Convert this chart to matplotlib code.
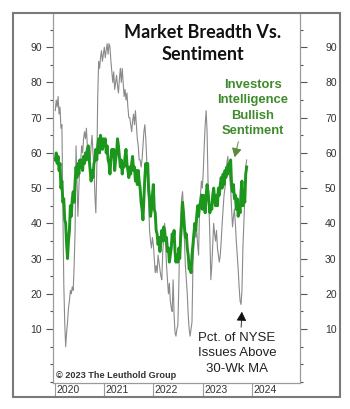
import matplotlib
matplotlib.use("Agg")
import matplotlib.pyplot as plt
from matplotlib.patches import Rectangle
from matplotlib.lines import Line2D
import pandas as pd
import numpy as np

# ---------------- data (weekly, from first Friday of 2020) ----------------
nyse_2020 = [72, 75, 73, 76, 71, 73, 67, 68, 45, 23, 12, 5, 9, 12, 16, 18, 21, 20, 22, 21,
             28, 38, 62, 52, 42, 50, 56, 58, 62, 60, 64, 66, 64, 67, 62, 58, 60, 58, 62, 65,
             60, 56, 48, 43, 55, 76, 86, 84, 87, 89, 86, 88]
nyse_2021 = [90, 87, 89, 91, 88, 91, 90, 86, 83, 80, 83, 78, 80, 82, 79, 77, 81, 84, 80, 84,
             80, 76, 78, 75, 77, 73, 70, 70, 68, 66, 69, 71, 68, 72, 68, 64, 62, 58, 58, 56,
             58, 62, 66, 68, 64, 58, 50, 46, 38, 35, 33, 36]
nyse_2022 = [34, 30, 26, 28, 26, 31, 29, 27, 25, 24, 32, 36, 40, 34, 28, 24, 20, 23, 18, 16,
             15, 24, 14, 9, 8, 10, 11, 22, 35, 42, 47, 49, 44, 35, 28, 24, 20, 14, 10, 8,
             10, 12, 28, 34, 40, 36, 38, 34, 31, 44, 48, 52]
nyse_2023 = [50, 55, 62, 68, 72, 66, 52, 45, 36, 24, 28, 34, 40, 37, 35, 38, 33, 31, 29, 31,
             35, 40, 44, 48, 50, 54, 57, 59, 56, 53, 50, 44, 39, 42, 44, 40, 35, 31, 27, 22,
             18, 17, 21, 33, 40, 47, 56, 58]

ii_2020 = [58, 60, 57, 59, 55, 57, 50, 52, 46, 47, 41, 40, 34, 30, 35, 38, 45, 42, 47, 49,
           46, 52, 56, 53, 57, 54, 58, 56, 58, 55, 59, 57, 60, 58, 61, 62, 58, 55, 52, 55,
           53, 57, 58, 61, 58, 62, 64, 60, 65, 63, 61, 64]
ii_2021 = [62, 64, 60, 62, 58, 57, 54, 58, 61, 59, 61, 55, 58, 60, 64, 62, 59, 56, 58, 54,
           57, 56, 59, 61, 57, 55, 53, 56, 54, 57, 59, 55, 56, 52, 55, 51, 55, 52, 50, 46,
           44, 41, 47, 53, 57, 55, 57, 50, 47, 42, 44, 48]
ii_2022 = [51, 44, 43, 38, 37, 34, 36, 32, 35, 38, 35, 39, 38, 35, 36, 32, 33, 29, 31, 33,
           37, 35, 38, 32, 29, 31, 29, 33, 30, 36, 40, 46, 43, 39, 36, 37, 33, 31, 27, 28,
           26, 31, 34, 37, 40, 38, 42, 45, 42, 45, 46, 48]
ii_2023 = [44, 48, 45, 43, 48, 51, 49, 46, 43, 45, 44, 48, 50, 47, 45, 48, 45, 50, 48, 51,
           53, 50, 54, 51, 55, 53, 56, 54, 57, 55, 58, 51, 49, 51, 47, 48, 44, 47, 42, 45,
           43, 49, 52, 45, 48, 46, 54, 56]

nyse = nyse_2020 + nyse_2021 + nyse_2022 + nyse_2023
ii = ii_2020 + ii_2021 + ii_2022 + ii_2023
dates = pd.date_range("2020-01-03", periods=len(nyse), freq="W-FRI")

years = [2020, 2021, 2022, 2023, 2024]
yticks = [10, 20, 30, 40, 50, 60, 70, 80, 90]

# ---------------- figure ----------------
W, H = 350, 409
fig = plt.figure(figsize=(W / 100, H / 100), dpi=100)
fig.patch.set_facecolor("white")

def fx(px):
    return px / W

def fy(py):
    return 1 - py / H

L, R, T, B = 53, 300, 13, 383
ax = fig.add_axes([fx(L), fy(B), fx(R - L), fy(T) - fy(B)])

green = "#1c961c"
ax.plot(dates, nyse, color="#8a8a8a", lw=0.8, zorder=2)
ax.plot(dates, ii, color=green, lw=2.1, zorder=3, solid_joinstyle="round")

xlim = (pd.Timestamp("2019-12-17"), pd.Timestamp("2024-12-24"))
ylim = (-5.3, 99.7)
ax.set_xlim(*xlim)
ax.set_ylim(*ylim)

tick_col = "#555555"
lab_kw = dict(fontsize=7.5, family="Liberation Sans", color="#333333")

ax.set_yticks(yticks)
ax.set_yticks(np.arange(-5, 100, 5), minor=True)
ax.set_yticklabels([str(v) for v in yticks], **lab_kw)
ax.tick_params(axis="y", which="major", direction="out", length=5, width=0.8,
               color=tick_col, left=True, right=False, pad=3)
ax.tick_params(axis="y", which="minor", direction="out", length=2.5, width=0.8,
               color=tick_col, left=True, right=False)
ax.tick_params(axis="x", which="both", bottom=False, top=False, labelbottom=False)

# right-side axis (same scale, labels further out)
ax2 = ax.twinx()
ax2.set_ylim(*ylim)
ax2.set_yticks(yticks)
ax2.set_yticks(np.arange(-5, 100, 5), minor=True)
ax2.set_yticklabels([str(v) for v in yticks], **lab_kw)
ax2.tick_params(axis="y", which="major", direction="out", length=5, width=0.8,
                color=tick_col, pad=13)
ax2.tick_params(axis="y", which="minor", direction="out", length=2.5, width=0.8,
                color=tick_col)

for a in (ax, ax2):
    for s in ["left", "right", "bottom"]:
        a.spines[s].set_color("#9a9a9a")
        a.spines[s].set_linewidth(0.8)
    a.spines["top"].set_visible(False)

# year strip below the axes
strip_h = (397 - 383) / (B - T)
trans = ax.get_xaxis_transform()
for y in years:
    d = pd.Timestamp(f"{y}-01-01")
    ax.add_line(Line2D([d, d], [0, -strip_h], transform=trans, color="#9a9a9a",
                       lw=0.8, clip_on=False))
    ax.text(d + pd.Timedelta(days=10), -strip_h / 2, str(y), transform=trans,
            ha="left", va="center", fontsize=7.5, family="Liberation Sans", color="#333333")

# outer frame
fig.add_artist(Rectangle((fx(13), fy(397)), fx(340 - 13), fy(13) - fy(397),
                         transform=fig.transFigure, fill=False, edgecolor="#7a7a7a", lw=1.5))

# title
fig.text(fx(203), fy(32), "Market Breadth Vs.", ha="center", va="center",
         fontsize=13, fontweight="bold", family="Lato", color="#111111")
fig.text(fx(203), fy(55), "Sentiment", ha="center", va="center",
         fontsize=13, fontweight="bold", family="Lato", color="#111111")

# green annotation
gtxt = "#3d8b2a"
for i, s in enumerate(["Investors", "Intelligence", "Bullish", "Sentiment"]):
    fig.text(fx(253), fy(85 + 15.4 * i), s, ha="center", va="center", fontsize=9.4,
             fontweight="bold", family="Liberation Sans", color=gtxt)
ax.annotate("", xy=(fx(234), fy(160)), xycoords="figure fraction",
            xytext=(fx(239), fy(139)), textcoords="figure fraction",
            arrowprops=dict(arrowstyle="-|>,head_length=0.55,head_width=0.3",
                            color="#5a8a3a", lw=0.7))

# black annotation
for i, s in enumerate(["Pct. of NYSE", "Issues Above", "30-Wk MA"]):
    fig.text(fx(237), fy(338 + 15.5 * i), s, ha="center", va="center", fontsize=9.5,
             family="Liberation Sans", color="#222222")
ax.annotate("", xy=(fx(242), fy(309)), xycoords="figure fraction",
            xytext=(fx(241), fy(330)), textcoords="figure fraction",
            arrowprops=dict(arrowstyle="-|>,head_length=0.55,head_width=0.3",
                            color="#111111", lw=0.6))

# copyright
fig.text(fx(56), fy(375), "\u00a9 2023 The Leuthold Group", ha="left", va="center",
         fontsize=6.6, fontweight="bold", family="Liberation Sans", color="#333333")

fig.savefig("out.png", dpi=100, facecolor="white")
